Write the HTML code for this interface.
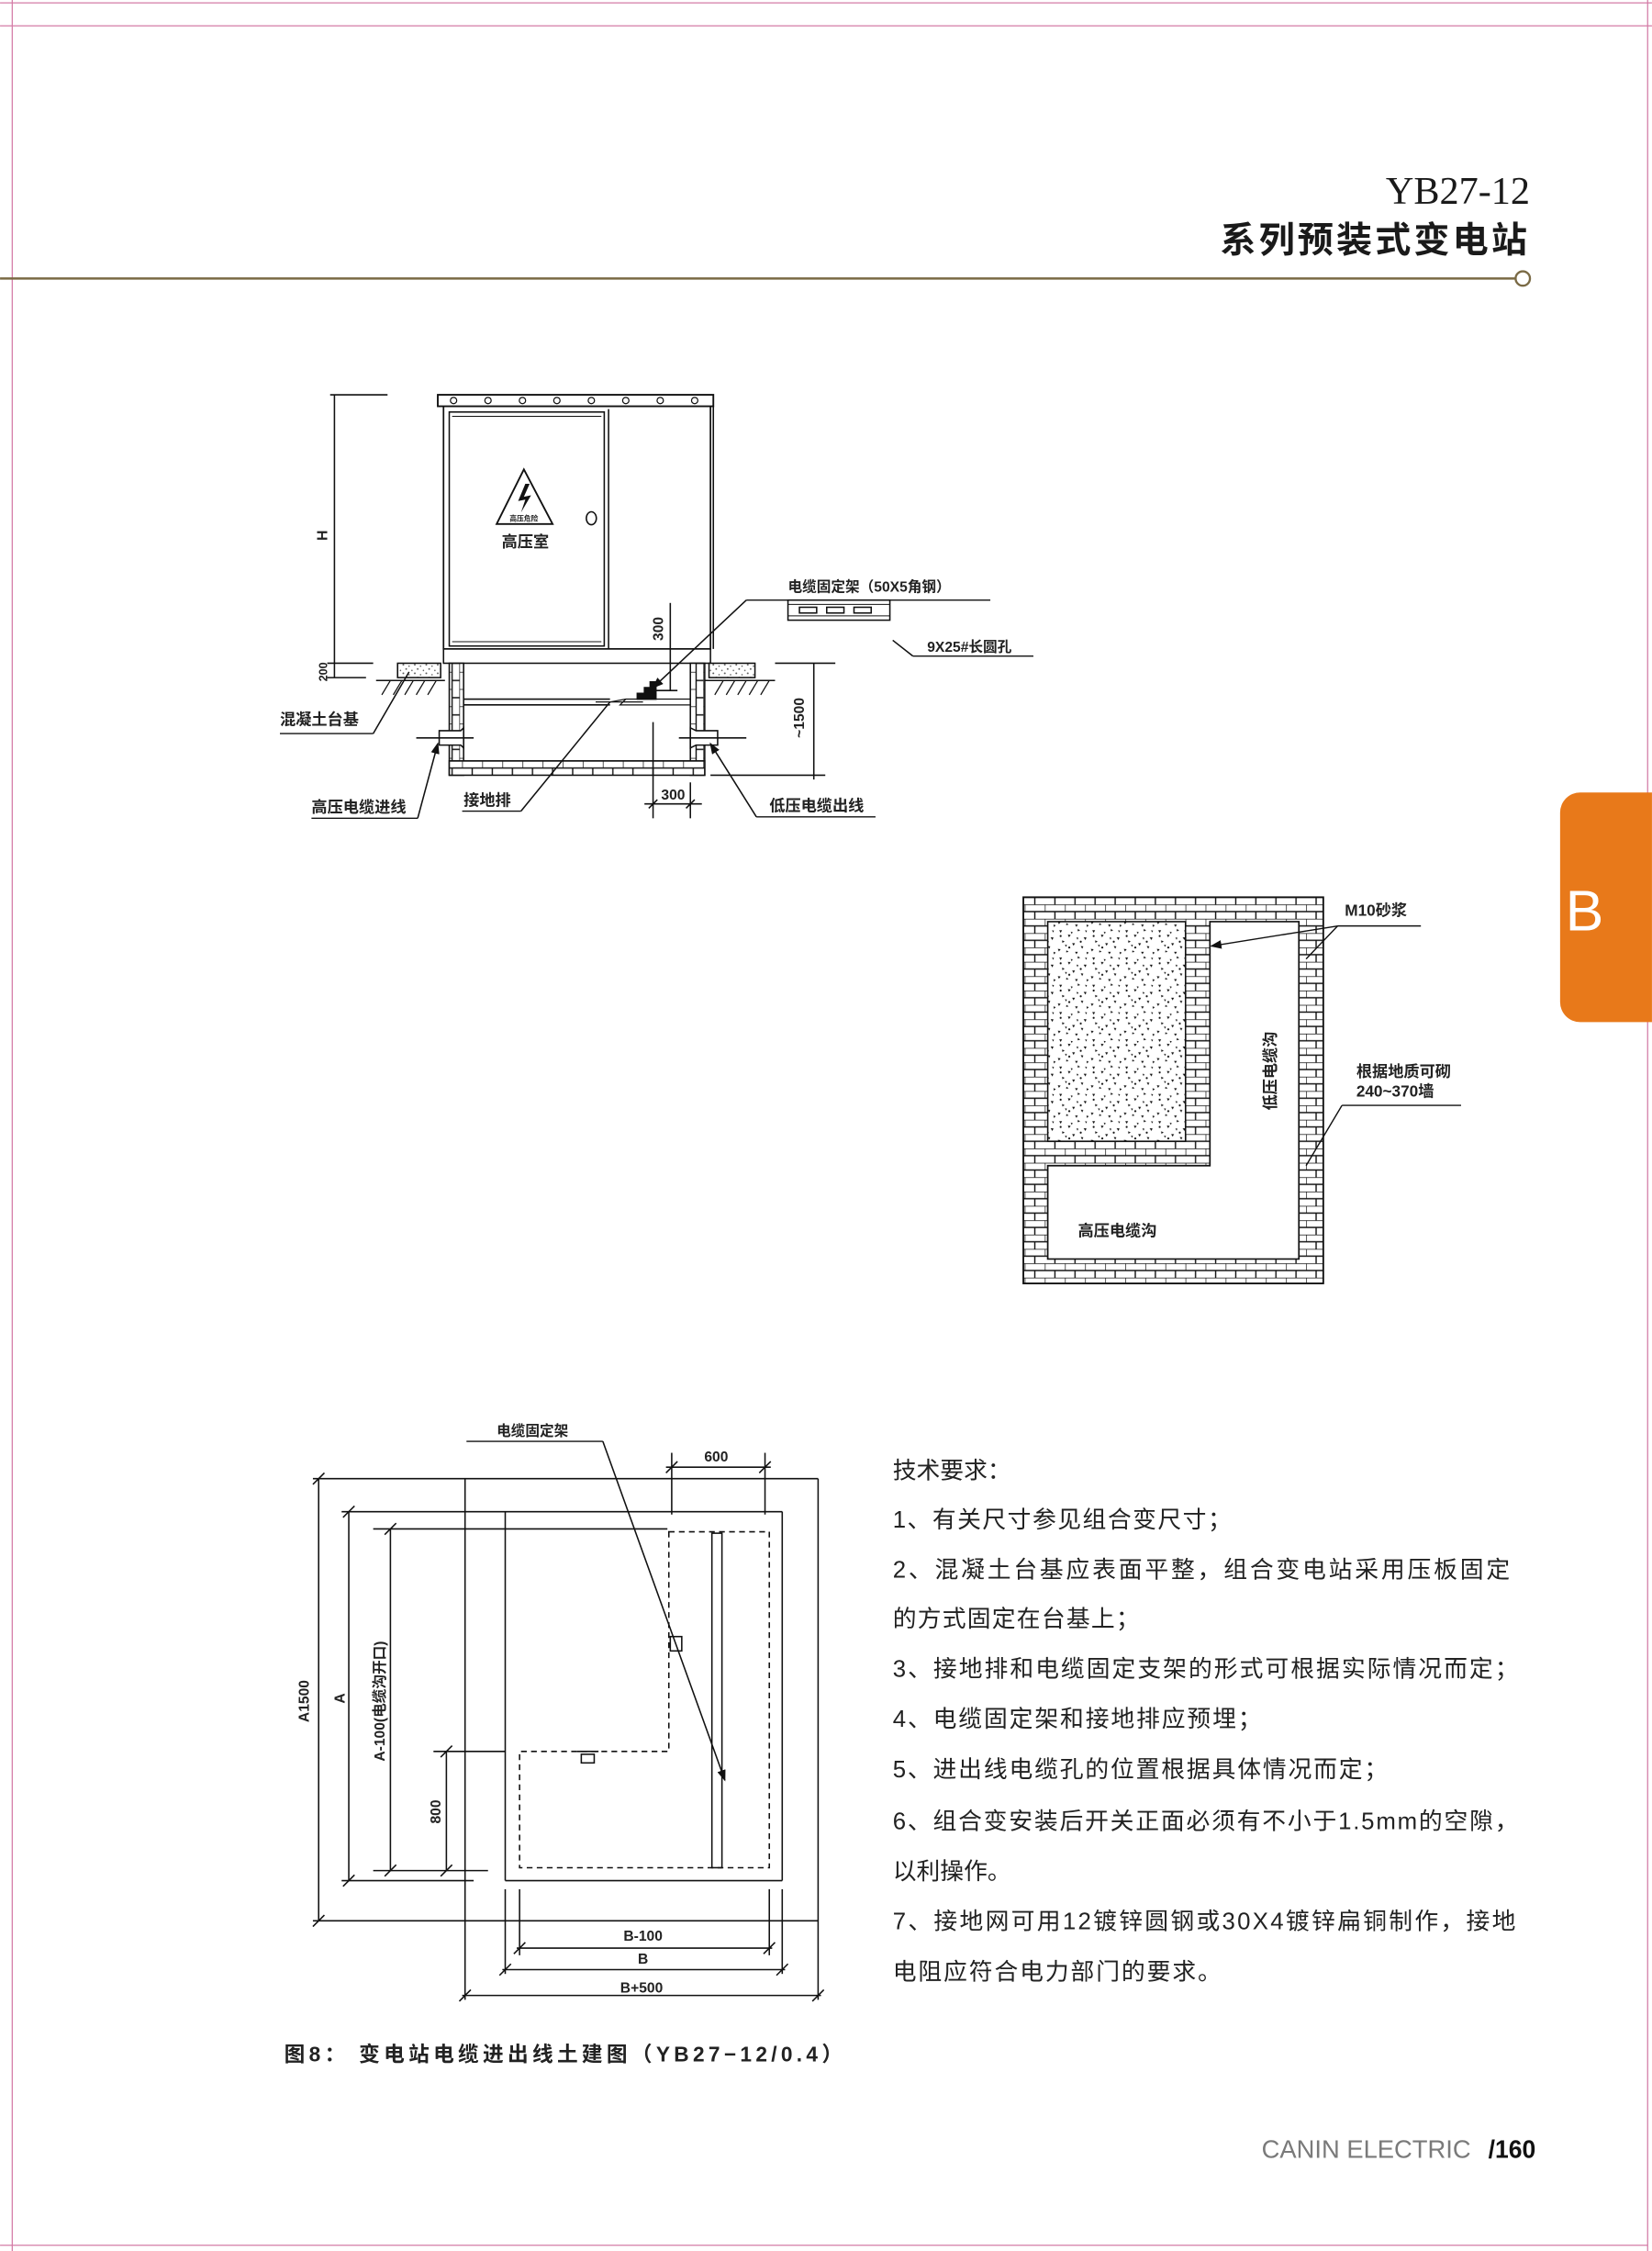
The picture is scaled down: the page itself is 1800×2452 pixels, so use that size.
<!DOCTYPE html>
<html><head><meta charset="utf-8"><style>
html,body{margin:0;padding:0;background:#fff;}
svg{display:block;}
text{font-family:"Liberation Sans","Noto Sans CJK SC",sans-serif;fill:#222;}
</style></head><body>
<svg width="1800" height="2452" viewBox="0 0 1151 1568" xmlns="http://www.w3.org/2000/svg">
<defs>
<pattern id="brick" width="14" height="10" patternUnits="userSpaceOnUse">
<rect width="14" height="10" fill="#fff"/>
<path d="M0 0H14M0 5H14M0 0V5M7 5V10" stroke="#111" stroke-width="0.9" fill="none"/>
</pattern>
<pattern id="brickv" width="10" height="12" patternUnits="userSpaceOnUse">
<rect width="10" height="12" fill="#fff"/>
<path d="M0 0V12M5 0V12M0 0H5M5 6H10" stroke="#111" stroke-width="0.9" fill="none"/>
</pattern>
<pattern id="sand" width="23" height="19" patternUnits="userSpaceOnUse">
<rect width="23" height="19" fill="#fff"/>
<g fill="#111">
<path d="M2 2l2 0 -1 1.8z"/><path d="M8 5l2 0.3 -1.2 1.6z"/><path d="M15 1l1.6 1.2 -1.8 0.5z"/>
<path d="M19 7l2 0 -0.7 1.9z"/><path d="M4 9l1.8 0.8 -1.6 1z"/><path d="M11 11l2 0 -1 1.8z"/>
<path d="M17 13l1.8 0.2 -0.8 1.7z"/><path d="M1 15l2 0.2 -1.2 1.6z"/><path d="M7 16l1.6 1 -1.8 0.4z"/>
<path d="M13 17l2 0 -1 1.7z"/><path d="M21 17l1.6 0.6 -1.3 1.2z"/><path d="M10 3l1.4 0.3 -0.7 1.3z"/>
<path d="M20 2l1.4 0.3 -0.7 1.3z"/><path d="M14 7l1.4 0.3 -0.7 1.3z"/><path d="M6 12l1.4 0.3 -0.7 1.3z"/>
<circle cx="3" cy="6" r="0.7"/><circle cx="17" cy="10" r="0.7"/><circle cx="9" cy="14" r="0.7"/>
</g>
</pattern>
<pattern id="conc" width="8" height="6" patternUnits="userSpaceOnUse">
<rect width="8" height="6" fill="#fff"/>
<g fill="#555"><circle cx="1" cy="1" r="0.6"/><circle cx="5" cy="2" r="0.5"/><circle cx="3" cy="4" r="0.6"/><circle cx="7" cy="5" r="0.5"/></g>
</pattern>
<marker id="ar" markerWidth="8" markerHeight="6" refX="7" refY="3" orient="auto" markerUnits="userSpaceOnUse">
<path d="M0 0L8 3L0 6z" fill="#111"/>
</marker>
</defs>

<g stroke="#d47ba6" stroke-width="0.8" fill="none">
<line x1="0" y1="2" x2="1151" y2="2"/>
<line x1="0" y1="18" x2="1151" y2="18"/>
<line x1="8.5" y1="0" x2="8.5" y2="1568"/>
<line x1="1148" y1="0" x2="1148" y2="1568"/>
<line x1="0" y1="1564" x2="1148" y2="1564"/>
</g>

<text x="1066" y="142" text-anchor="end" style="font-family:'Liberation Serif','DejaVu Serif',serif;font-size:27px;fill:#1a1a1a">YB27-12</text>
<text x="1066" y="176" text-anchor="end" style="font-size:25px;font-weight:bold;letter-spacing:2px;fill:#1a1a1a">系列预装式变电站</text>
<line x1="0" y1="194" x2="1056" y2="194" stroke="#7a6a45" stroke-width="1.6"/>
<circle cx="1061" cy="194" r="5" fill="#fff" stroke="#7a6a45" stroke-width="1.5"/>

<path d="M1101 552H1151V712H1101A14 14 0 0 1 1087 698V566A14 14 0 0 1 1101 552z" fill="#e8791a"/>
<text x="1104" y="648" text-anchor="middle" style="font-size:40px;fill:#fff">B</text>

<g stroke="#111" stroke-width="1" fill="none">
<line x1="230" y1="275" x2="270" y2="275"/>
<line x1="233" y1="275" x2="233" y2="472"/>
<line x1="228" y1="462" x2="260" y2="462"/>
<line x1="228" y1="472" x2="255" y2="472"/>
<rect x="305" y="275" width="192" height="8" stroke-width="1.2"/>
<path d="M309 283V452H495V283" stroke-width="1.1"/>
<line x1="497" y1="283" x2="497" y2="452"/>
<rect x="309" y="452" width="186" height="10"/>
<rect x="313" y="287" width="108" height="163"/>
<line x1="315" y1="290" x2="419" y2="290" stroke-width="0.6"/>
<line x1="315" y1="447" x2="419" y2="447" stroke-width="0.6"/>
<line x1="424" y1="285" x2="424" y2="452"/>
<ellipse cx="412" cy="361" rx="3.5" ry="4.5"/>
<path d="M365 327L385 365H346z" stroke-width="1.2"/>
<rect x="277" y="462" width="30" height="10" fill="url(#conc)"/>
<rect x="494" y="462" width="32" height="10" fill="url(#conc)"/>
<line x1="262" y1="474" x2="310" y2="474"/>
<line x1="491" y1="474" x2="540" y2="474"/>
<path d="M266 484l6 -10M274 484l6 -10M282 484l6 -10M290 484l6 -10M298 484l6 -10M498 484l6 -10M506 484l6 -10M514 484l6 -10M522 484l6 -10M530 484l6 -10" stroke-width="0.8"/>
<line x1="540" y1="462" x2="582" y2="462"/>
<line x1="567" y1="462" x2="567" y2="543"/>
<line x1="495" y1="540" x2="575" y2="540"/>
<rect x="313" y="462" width="10" height="78" fill="url(#brickv)"/>
<rect x="481" y="462" width="10" height="78" fill="url(#brickv)"/>
<rect x="313" y="530" width="178" height="10" fill="url(#brick)"/>
<path d="M323 487H425M323 491H425"/>
<path d="M425 489L436 487H481M436 487L432 491H481" stroke-width="0.8"/>
<line x1="415" y1="489" x2="448" y2="489" stroke-width="0.8"/>
<path d="M444 487V483H449V479H453V475H457V487z" fill="#111"/>
<line x1="452" y1="481" x2="472" y2="481"/>
<line x1="467" y1="420" x2="467" y2="481"/>
<path d="M306 509H321L323 507V521L321 519H306z" fill="#fff"/>
<line x1="290" y1="514" x2="330" y2="514"/>
<path d="M500 509H485L481 507V521L485 519H500z" fill="#fff"/>
<line x1="473" y1="514" x2="520" y2="514"/>
<line x1="455" y1="503" x2="455" y2="570"/>
<line x1="481" y1="545" x2="481" y2="570"/>
<line x1="449" y1="560" x2="489" y2="560"/>
<path d="M452 563l6 -6M478 563l6 -6"/>
<rect x="549" y="418" width="71" height="14"/>
<line x1="549" y1="421" x2="620" y2="421" stroke-width="0.6"/>
<line x1="549" y1="429" x2="620" y2="429" stroke-width="0.6"/>
<rect x="557" y="423" width="12" height="4"/><rect x="576" y="423" width="12" height="4"/><rect x="595" y="423" width="12" height="4"/>
<line x1="520" y1="418" x2="690" y2="418" stroke-width="0.9"/>
<line x1="520" y1="418" x2="455" y2="479" marker-end="url(#ar)"/>
<line x1="636" y1="457" x2="720" y2="457" stroke-width="0.9"/>
<line x1="636" y1="457" x2="622" y2="446"/>
<line x1="195" y1="511" x2="260" y2="511" stroke-width="0.9"/>
<line x1="260" y1="511" x2="285" y2="468"/>
<line x1="217" y1="570" x2="291" y2="570" stroke-width="0.9"/>
<line x1="291" y1="570" x2="305" y2="518" marker-end="url(#ar)"/>
<line x1="322" y1="565" x2="363" y2="565" stroke-width="0.9"/>
<line x1="363" y1="565" x2="425" y2="489"/>
<line x1="527" y1="569" x2="610" y2="569" stroke-width="0.9"/>
<line x1="527" y1="569" x2="495" y2="518" marker-end="url(#ar)"/>
</g>
<g fill="#111">
<circle cx="316" cy="279" r="2.2" fill="#fff" stroke="#111" stroke-width="0.8"/>
<circle cx="340" cy="279" r="2.2" fill="#fff" stroke="#111" stroke-width="0.8"/>
<circle cx="364" cy="279" r="2.2" fill="#fff" stroke="#111" stroke-width="0.8"/>
<circle cx="388" cy="279" r="2.2" fill="#fff" stroke="#111" stroke-width="0.8"/>
<circle cx="412" cy="279" r="2.2" fill="#fff" stroke="#111" stroke-width="0.8"/>
<circle cx="436" cy="279" r="2.2" fill="#fff" stroke="#111" stroke-width="0.8"/>
<circle cx="460" cy="279" r="2.2" fill="#fff" stroke="#111" stroke-width="0.8"/>
<circle cx="484" cy="279" r="2.2" fill="#fff" stroke="#111" stroke-width="0.8"/>
<path d="M366 337L361 349L366 348L363 357L370 345L365 346L369 337z"/>
</g>
<g style="font-weight:600">
<text x="365" y="363" text-anchor="middle" style="font-size:5px">高压危险</text>
<text x="366" y="381" text-anchor="middle" style="font-size:11px">高压室</text>
<text transform="translate(228,373) rotate(-90)" text-anchor="middle" style="font-size:10px">H</text>
<text transform="translate(228,468) rotate(-90)" text-anchor="middle" style="font-size:8px">200</text>
<text transform="translate(462,438) rotate(-90)" text-anchor="middle" style="font-size:10px">300</text>
<text transform="translate(560,500) rotate(-90)" text-anchor="middle" style="font-size:10px">~1500</text>
<text x="469" y="557" text-anchor="middle" style="font-size:10px">300</text>
<text x="549" y="412" style="font-size:10px">电缆固定架（50X5角钢）</text>
<text x="646" y="454" style="font-size:10px">9X25#长圆孔</text>
<text x="195" y="505" style="font-size:11px">混凝土台基</text>
<text x="217" y="566" style="font-size:11px">高压电缆进线</text>
<text x="323" y="561" style="font-size:11px">接地排</text>
<text x="536" y="565" style="font-size:11px">低压电缆出线</text>
</g>

<rect x="713" y="625" width="209" height="269" fill="url(#brick)" stroke="#111" stroke-width="1.2"/>
<path d="M843 642H905V877H730V812H843z" fill="#fff" stroke="#111" stroke-width="1.1"/>
<rect x="730" y="642" width="96" height="153" fill="url(#sand)" stroke="#111" stroke-width="1"/>
<g stroke="#111" stroke-width="0.9" fill="none">
<line x1="932" y1="645" x2="990" y2="645"/>
<line x1="932" y1="645" x2="844" y2="659" marker-end="url(#ar)"/>
<line x1="932" y1="645" x2="910" y2="668"/>
<line x1="935" y1="770" x2="1018" y2="770"/>
<line x1="935" y1="770" x2="910" y2="812"/>
</g>
<g style="font-weight:600">
<text x="937" y="638" style="font-size:11px">M10砂浆</text>
<text x="945" y="750" style="font-size:11px">根据地质可砌</text>
<text x="945" y="764" style="font-size:11px">240~370墙</text>
<text transform="translate(889,746) rotate(-90)" text-anchor="middle" style="font-size:11px">低压电缆沟</text>
<text x="751" y="861" style="font-size:11px">高压电缆沟</text>
</g>

<g stroke="#111" stroke-width="1" fill="none">
<line x1="218" y1="1030" x2="570" y2="1030"/>
<line x1="324" y1="1030" x2="324" y2="1393"/>
<line x1="570" y1="1030" x2="570" y2="1393"/>
<line x1="218" y1="1338" x2="570" y2="1338"/>
<line x1="222" y1="1030" x2="222" y2="1338"/>
<path d="M218 1034l8 -8M218 1342l8 -8"/>
<line x1="238" y1="1053" x2="545" y2="1053"/>
<line x1="352" y1="1053" x2="352" y2="1310"/>
<line x1="545" y1="1053" x2="545" y2="1310"/>
<line x1="352" y1="1310" x2="545" y2="1310"/>
<line x1="238" y1="1310" x2="330" y2="1310"/>
<line x1="243" y1="1053" x2="243" y2="1310"/>
<path d="M239 1057l8 -8M239 1314l8 -8"/>
<line x1="260" y1="1065" x2="465" y2="1065"/>
<line x1="272" y1="1065" x2="272" y2="1303"/>
<line x1="260" y1="1303" x2="340" y2="1303"/>
<path d="M268 1069l8 -8M268 1307l8 -8"/>
<line x1="302" y1="1220" x2="352" y2="1220"/>
<line x1="311" y1="1220" x2="311" y2="1303"/>
<path d="M307 1224l8 -8M307 1307l8 -8"/>
<path d="M466 1067H536V1301H362V1220H466z" stroke-dasharray="4 3"/>
<rect x="496" y="1068" width="7" height="233"/>
<rect x="467" y="1140" width="8" height="10" fill="#fff"/>
<rect x="405" y="1222" width="9" height="6" fill="#fff"/>
<line x1="402" y1="1220" x2="417" y2="1220"/>
<line x1="468" y1="1012" x2="468" y2="1055"/>
<line x1="533" y1="1012" x2="533" y2="1055"/>
<line x1="464" y1="1022" x2="537" y2="1022"/>
<path d="M464 1026l8 -8M529 1026l8 -8"/>
<line x1="362" y1="1316" x2="362" y2="1362"/>
<line x1="536" y1="1316" x2="536" y2="1362"/>
<line x1="360" y1="1357" x2="538" y2="1357"/>
<path d="M358 1361l8 -8M532 1361l8 -8"/>
<line x1="352" y1="1316" x2="352" y2="1375"/>
<line x1="545" y1="1316" x2="545" y2="1375"/>
<line x1="350" y1="1372" x2="547" y2="1372"/>
<path d="M348 1376l8 -8M541 1376l8 -8"/>
<line x1="322" y1="1390" x2="572" y2="1390"/>
<path d="M320 1394l8 -8M566 1394l8 -8"/>
<line x1="325" y1="1004" x2="420" y2="1004" stroke-width="0.9"/>
<line x1="420" y1="1004" x2="505" y2="1240" marker-end="url(#ar)"/>
</g>
<g style="font-weight:600">
<text x="346" y="1000" style="font-size:10px">电缆固定架</text>
<text x="499" y="1018" text-anchor="middle" style="font-size:10px">600</text>
<text transform="translate(215,1185) rotate(-90)" text-anchor="middle" style="font-size:10px">A1500</text>
<text transform="translate(240,1183) rotate(-90)" text-anchor="middle" style="font-size:10px">A</text>
<text transform="translate(268,1185) rotate(-90)" text-anchor="middle" style="font-size:10px">A-100(电缆沟开口)</text>
<text transform="translate(307,1262) rotate(-90)" text-anchor="middle" style="font-size:10px">800</text>
<text x="448" y="1352" text-anchor="middle" style="font-size:10px">B-100</text>
<text x="448" y="1368" text-anchor="middle" style="font-size:10px">B</text>
<text x="447" y="1388" text-anchor="middle" style="font-size:10px">B+500</text>
</g>
<text x="198" y="1436" textLength="389" style="font-size:14.5px;font-weight:bold">图8： 变电站电缆进出线土建图（YB27−12/0.4）</text>

<g style="font-size:16.5px">
<text x="622" y="1030">技术要求：</text>
<text x="622" y="1064" textLength="236">1、有关尺寸参见组合变尺寸；</text>
<text x="622" y="1099" textLength="430">2、混凝土台基应表面平整，组合变电站采用压板固定</text>
<text x="622" y="1133" textLength="172">的方式固定在台基上；</text>
<text x="622" y="1168" textLength="436">3、接地排和电缆固定支架的形式可根据实际情况而定；</text>
<text x="622" y="1203" textLength="257">4、电缆固定架和接地排应预埋；</text>
<text x="622" y="1238" textLength="345">5、进出线电缆孔的位置根据具体情况而定；</text>
<text x="622" y="1274" textLength="436">6、组合变安装后开关正面必须有不小于1.5mm的空隙，</text>
<text x="622" y="1309">以利操作。</text>
<text x="622" y="1344" textLength="434">7、接地网可用12镀锌圆钢或30X4镀锌扁铜制作，接地</text>
<text x="622" y="1379" textLength="229">电阻应符合电力部门的要求。</text>
</g>

<text x="879" y="1503" style="font-size:17.5px;fill:#7a7a7a">CANIN ELECTRIC</text>
<text x="1037" y="1503" textLength="33" lengthAdjust="spacingAndGlyphs" style="font-size:17.5px;font-weight:bold;fill:#111">/160</text>
</svg>
</body></html>
